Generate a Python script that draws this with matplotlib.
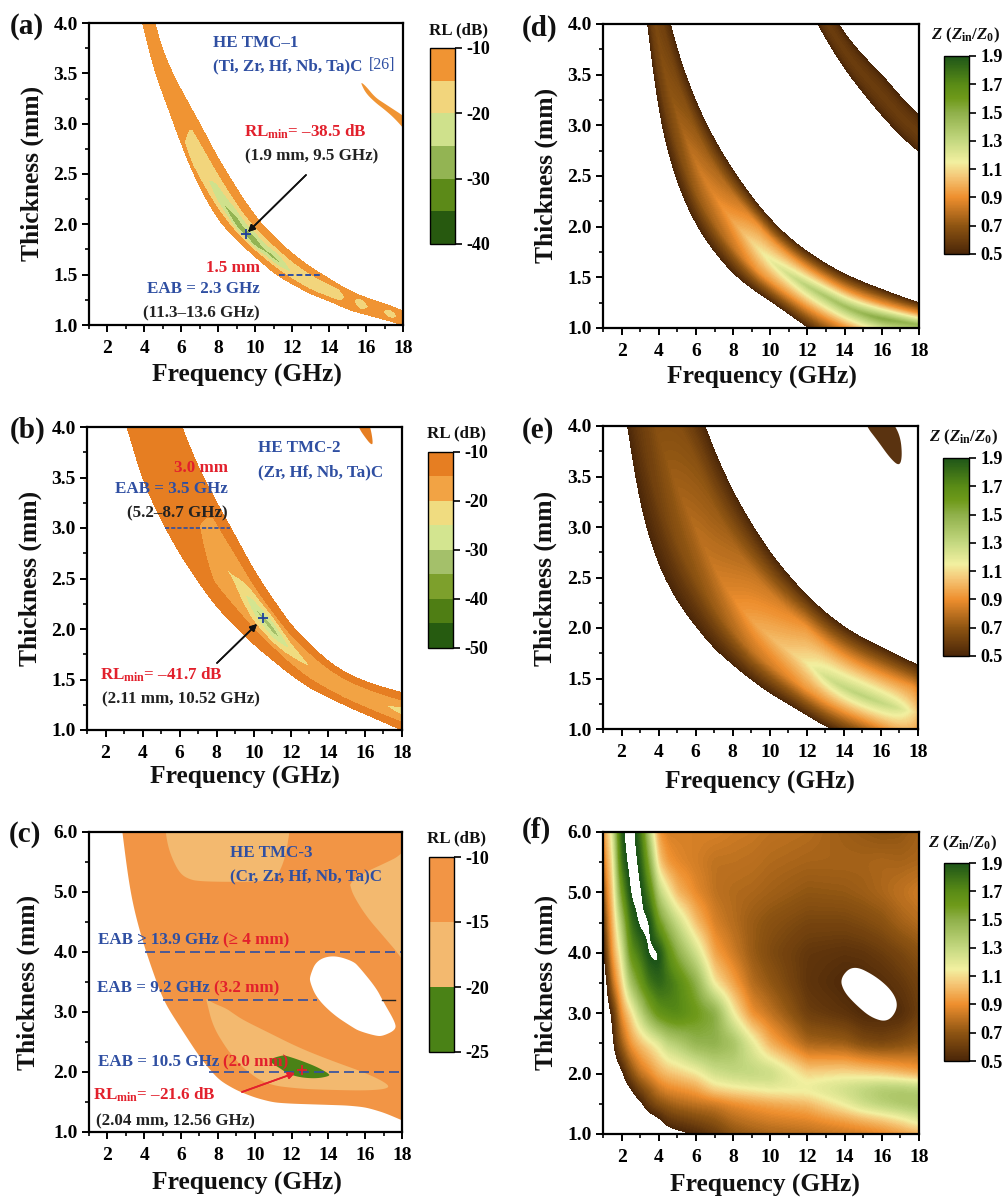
import numpy as np
import matplotlib
matplotlib.use("Agg")
import matplotlib.pyplot as plt
from matplotlib.colors import LinearSegmentedColormap, ListedColormap, BoundaryNorm, Normalize
from matplotlib.cm import ScalarMappable

plt.rcParams['font.family'] = ['Liberation Serif', 'DejaVu Serif']
plt.rcParams['font.weight'] = 'bold'
plt.rcParams['mathtext.fontset'] = 'custom'
plt.rcParams['mathtext.rm'] = 'Liberation Serif:bold'
plt.rcParams['mathtext.it'] = 'Liberation Serif:italic:bold'
plt.rcParams['mathtext.bf'] = 'Liberation Serif:bold'

W, H = 1005, 1198
BLUE = '#2f4fa2'
RED = '#e2202c'
INK = '#222222'

# panel a: RL band
a_freq = [3.9, 4.5, 5, 5.5, 6, 6.5, 7, 7.5, 8, 8.5, 9, 9.5, 10, 10.5, 11, 11.5, 12, 12.5, 13, 14, 14.5, 15.1, 15.7, 16.5, 17.3, 18]
a_low = [4.0, 3.55, 3.3, 3.05, 2.8, 2.57, 2.37, 2.2, 2.05, 1.94, 1.85, 1.76, 1.68, 1.6, 1.52, 1.46, 1.41, 1.36, 1.31, 1.24, 1.2, 1.15, 1.12, 1.08, 1.04, 1.0]
a_up = [4.7, 4.0, 3.72, 3.5, 3.33, 3.16, 3.0, 2.82, 2.65, 2.5, 2.35, 2.21, 2.08, 1.97, 1.88, 1.79, 1.71, 1.64, 1.57, 1.46, 1.4, 1.34, 1.29, 1.24, 1.19, 1.14]
a_ridge = [4.3, 3.7, 3.45, 3.15, 2.85, 2.7, 2.57, 2.42, 2.28, 2.14, 2.0, 1.9, 1.81, 1.74, 1.67, 1.6, 1.52, 1.46, 1.4, 1.33, 1.3, 1.26, 1.21, 1.16, 1.11, 1.07]
a_rl = [-11, -11, -11, -12, -13.5, -18, -19.5, -20, -25, -26, -31, -28, -32, -26, -28, -25, -19.5, -19.5, -19.5, -19.5, -19, -12, -19.8, -11, -19, -12]
a_tip_freq = [15.75, 16, 16.5, 17, 17.5, 18, 18.5]
a_tip_low = [3.39, 3.3, 3.21, 3.14, 3.06, 2.96, 2.85]
a_tip_up = [3.41, 3.37, 3.26, 3.2, 3.14, 3.08, 3.0]
a_levels = [-40, -35, -30, -25, -20, -15, -10]
a_colors = ['#27590f', '#5c8a18', '#93b453', '#cfe18c', '#f2d57c', '#f09433']

# panel b: RL band
b_freq = [3, 4, 5, 6, 7, 8, 9, 9.5, 10, 10.5, 11, 11.5, 12, 13, 14, 15, 16, 17, 18]
b_low = [4.1, 3.48, 3.08, 2.75, 2.47, 2.22, 2.03, 1.94, 1.85, 1.77, 1.7, 1.62, 1.55, 1.42, 1.33, 1.24, 1.16, 1.08, 1.0]
b_up = [6, 5.1, 4.6, 4.05, 3.6, 3.25, 2.92, 2.75, 2.58, 2.44, 2.3, 2.17, 2.04, 1.85, 1.68, 1.56, 1.48, 1.42, 1.37]
b_rl = [-11, -11, -12, -13, -14.7, -19, -21, -24.5, -30, -32, -34, -29.5, -24.5, -20.2, -19, -18.6, -18.6, -19.5, -23]
b_tip_freq = [15.2, 15.7, 16, 16.3, 16.45, 16.3, 15.9, 15.2]
b_tip_thick = [4.2, 3.98, 3.9, 3.83, 3.83, 4.0, 4.2, 4.3]
b_levels = [-50, -45, -40, -35, -30, -25, -20, -15, -10]
b_colors = ['#265b10', '#4f7e14', '#7da02c', '#a4c06a', '#d3e590', '#f0dc80', '#f2a344', '#e67e22']

# panel c: RL regions, read as boundaries
c_freq = [2.79, 3, 3.5, 4, 5, 6, 7, 8, 9, 10, 11, 12, 13, 14, 15, 16, 17, 18]
c_low = [6, 5.3, 4.6, 4.07, 3.2, 2.72, 2.25, 1.88, 1.7, 1.58, 1.5, 1.48, 1.47, 1.46, 1.45, 1.42, 1.33, 1.2]
c_top_freq = [5.05, 5.16, 5.3, 5.56, 5.9, 6.29, 7, 10.45, 11.17, 11.63, 11.9, 12]
c_top_low = [6.4, 6, 5.75, 5.53, 5.33, 5.23, 5.17, 5.17, 5.23, 5.53, 6, 6.4]
c_top_up = [6.4, 6.4, 6.4, 6.4, 6.4, 6.4, 6.4, 6.4, 6.4, 6.4, 6.4, 6.4]
c_right_freq = [15.18, 15.34, 16.07, 17, 18, 18.6]
c_right_low = [5.12, 4.95, 4.59, 4.26, 3.9, 3.55]
c_right_up = [5.12, 5.2, 5.34, 5.47, 5.62, 5.95]
c_mid_freq = [7.37, 7.73, 8.45, 8.82, 9.35, 10.6, 12.43, 14.25, 16.07, 17.25]
c_mid_low = [3.2, 2.76, 2.4, 2.26, 2.07, 1.79, 1.72, 1.7, 1.69, 1.72]
c_mid_up = [3.22, 3.15, 3.06, 2.98, 2.87, 2.68, 2.4, 2.18, 1.98, 1.8]
c_hole_freq = [13.0, 13.35, 14.25, 15.34, 15.7, 16.6, 16.97, 17.65]
c_hole_low = [3.5, 3.24, 2.96, 2.74, 2.68, 2.6, 2.6, 2.7]
c_hole_up = [3.6, 3.86, 3.95, 3.85, 3.74, 3.4, 3.18, 2.82]
c_core_freq = [10.85, 11.54, 11.72, 12.43, 13.35, 14.05]
c_core_low = [2.16, 2.03, 1.98, 1.91, 1.89, 1.93]
c_core_up = [2.22, 2.28, 2.27, 2.2, 2.09, 1.97]
c_levels = [-25, -20, -15, -10]
c_colors = ['#4a8216', '#f3b96f', '#f29545']

# panel d: impedance bands
d_freq = [3.4, 4, 4.6, 5, 6, 7, 8, 9, 10, 11, 12, 13, 14, 15, 16, 17, 18]
d_low = [4.0, 3.08, 2.68, 2.42, 2.02, 1.75, 1.54, 1.39, 1.27, 1.14, 1.01, 0.9, 0.83, 0.76, 0.7, 0.65, 0.6]
d_up = [5.0, 4.5, 4.0, 3.72, 3.22, 2.85, 2.55, 2.29, 2.07, 1.89, 1.75, 1.63, 1.53, 1.45, 1.38, 1.31, 1.25]
d_ridge = [4.5, 3.75, 3.33, 3.1, 2.62, 2.3, 2.05, 1.85, 1.66, 1.53, 1.41, 1.31, 1.21, 1.14, 1.09, 1.06, 1.03]
d_peak = [0.62, 0.65, 0.69, 0.72, 0.82, 0.87, 0.95, 1.08, 1.17, 1.25, 1.33, 1.38, 1.42, 1.46, 1.52, 1.48, 1.45]
d2_freq = [12, 13, 14, 15, 16, 17, 18]
d2_low = [4.2, 3.85, 3.56, 3.32, 3.1, 2.9, 2.74]
d2_up = [4.6, 4.2, 3.9, 3.68, 3.5, 3.28, 3.1]
d2_ridge = [4.4, 4.02, 3.73, 3.5, 3.3, 3.09, 2.92]
d2_peak = [0.6, 0.6, 0.6, 0.6, 0.6, 0.6, 0.6]

# panel e: impedance bands
e_freq = [2.33, 3, 4, 5, 6, 7, 8, 9, 10, 11, 12, 13, 14, 15, 16, 17, 18]
e_low = [4.0, 3.2, 2.62, 2.27, 2.02, 1.8, 1.64, 1.49, 1.36, 1.25, 1.14, 1.03, 0.95, 0.88, 0.8, 0.7, 0.6]
e_up = [6.5, 6, 5.3, 4.7, 4.25, 3.75, 3.35, 3.03, 2.75, 2.52, 2.32, 2.15, 2.01, 1.9, 1.81, 1.72, 1.63]
e_ridge = [5, 4.5, 3.9, 3.4, 3.0, 2.6, 2.3, 2.08, 1.92, 1.78, 1.66, 1.52, 1.41, 1.33, 1.26, 1.2, 1.16]
e_peak = [0.6, 0.62, 0.68, 0.74, 0.78, 0.82, 0.88, 0.95, 1.0, 1.05, 1.12, 1.25, 1.3, 1.32, 1.3, 1.25, 1.05]
e_tip_freq = [14.9, 15.2, 15.8, 16.5, 17, 17.15, 17.05, 16.6, 16.2, 15.8]
e_tip_thick = [4.2, 4.0, 3.86, 3.68, 3.6, 3.7, 3.9, 4.05, 4.2, 4.3]

# panel f: impedance grid, one list per frequency, thickness from f_thick
f_freq = [1, 1.25, 1.5, 2, 2.5, 3, 3.5, 4, 4.5, 5, 6, 7, 8, 9, 10, 12, 14, 15, 16, 17, 18]
f_thick = [1, 1.25, 1.5, 1.75, 2, 2.5, 3, 3.5, 4, 4.5, 5, 5.5, 6]
f_cols = [
    [.2, .2, .2, .2, .2, .25, .3, .38, .43, .5, .6, .75, .88],
    [.2, .2, .2, .25, .3, .38, .44, .5, .68, .8, .92, 1.0, 1.05],
    [.2, .25, .3, .33, .38, .45, .5, .78, .92, .97, 1.0, 1.05, 1.15],
    [.3, .33, .38, .42, .45, .72, .9, 1.05, 1.18, 1.35, 1.6, 1.8, 1.88],
    [.35, .38, .42, .48, .65, .92, 1.08, 1.4, 1.65, 1.8, 1.94, 1.98, 2.0],
    [.36, .4, .45, .62, .8, 1.02, 1.3, 1.6, 1.78, 1.94, 1.95, 1.88, 1.78],
    [.38, .42, .6, .72, .88, 1.1, 1.5, 1.78, 1.93, 1.93, 1.72, 1.5, 1.3],
    [.4, .47, .68, .82, .97, 1.18, 1.65, 1.85, 1.93, 1.6, 1.32, 1.05, .92],
    [.43, .57, .72, .88, 1.02, 1.3, 1.7, 1.8, 1.68, 1.42, 1.15, .92, .85],
    [.46, .6, .76, .9, 1.05, 1.35, 1.72, 1.72, 1.5, 1.28, 1.0, .88, .85],
    [.51, .65, .8, .95, 1.12, 1.48, 1.62, 1.5, 1.25, 1.02, .88, .84, .85],
    [.58, .7, .82, 1.08, 1.25, 1.5, 1.52, 1.12, .95, .85, .8, .8, .85],
    [.68, .78, .88, 1.12, 1.3, 1.42, 1.15, .95, .83, .78, .77, .8, .83],
    [.72, .82, .92, 1.15, 1.32, 1.2, .9, .78, .72, .72, .76, .79, .82],
    [.75, .85, .95, 1.18, 1.3, .98, .8, .7, .65, .68, .74, .77, .8],
    [.78, .88, 1.0, 1.2, 1.08, .75, .6, .56, .57, .63, .7, .75, .78],
    [.82, .95, 1.17, 1.28, 1.1, .72, .55, .51, .55, .63, .71, .75, .73],
    [.84, 1.0, 1.28, 1.33, 1.08, .65, .51, .51, .56, .65, .73, .75, .71],
    [.87, 1.05, 1.35, 1.38, 1.05, .63, .51, .53, .59, .68, .76, .76, .69],
    [.92, 1.12, 1.4, 1.38, 1.0, .66, .52, .57, .63, .74, .8, .75, .7],
    [.98, 1.22, 1.42, 1.35, .95, .7, .6, .62, .68, .78, .84, .76, .74],
]
f_hole_freq = [13.75, 13.95, 14.6, 15.45, 16.35, 16.9, 16.6, 15.65, 14.45]
f_hole_thick = [3.58, 3.36, 3.14, 2.92, 2.85, 3.1, 3.36, 3.62, 3.8]

z_stops = [0.5, 0.7, 0.9, 1.05, 1.15, 1.3, 1.5, 1.6, 1.7, 1.9]
z_colors = ['#4a2608', '#8f5512', '#ee8f2e', '#f5c878', '#f2f0a0', '#c4d880', '#8fb04a', '#6f9a1a', '#5a8c16', '#1e5518']
z_ticks = [0.5, 0.7, 0.9, 1.1, 1.3, 1.5, 1.7, 1.9]
z_cmap = LinearSegmentedColormap.from_list('z', [((s - 0.5) / 1.4, c) for s, c in zip(z_stops, z_colors)])
z_norm = Normalize(0.5, 1.9)
z_levels = np.linspace(0.5, 1.9, 141)


def px_axes(fig, left, right, top, bottom):
    return fig.add_axes([left / W, 1 - bottom / H, (right - left) / W, (bottom - top) / H])


def put(fig, x, y, s, **kw):
    kw.setdefault('fontsize', 12.25)
    kw.setdefault('va', 'center')
    kw.setdefault('color', INK)
    fig.text(x / W, 1 - y / H, s, **kw)


# the read columns are coarse, this only rounds the drawn edges between them
def fine(x, y, grid, width):
    v = np.interp(grid, x, y)
    step = grid[1] - grid[0]
    n = max(1, int(width / step))
    padded = np.r_[2 * v[0] - v[n:0:-1], v, 2 * v[-1] - v[-2:-n - 2:-1]]
    win = np.hanning(2 * n + 3)
    win = win / win.sum()
    return np.convolve(padded, win, mode='same')[n:-n]


def outline(x, y, rounds=4):
    x, y = np.array(x, float), np.array(y, float)
    for i in range(rounds):
        x = np.c_[0.75 * x + 0.25 * np.roll(x, -1), 0.25 * x + 0.75 * np.roll(x, -1)].ravel()
        y = np.c_[0.75 * y + 0.25 * np.roll(y, -1), 0.25 * y + 0.75 * np.roll(y, -1)].ravel()
    return x, y


def region(ax, freq, low, up, color):
    x, y = outline(list(freq) + list(freq)[::-1], list(low) + list(up)[::-1])
    ax.fill(x, y, color=color, lw=0)


def rl_band(ax, freq, low, up, levels, colors, rl, ridge=None):
    ridge = (np.array(low) + np.array(up)) / 2 if ridge is None else ridge
    g = np.linspace(freq[0], freq[-1], 500)
    low, up, ridge = fine(freq, low, g, 0.7), fine(freq, up, g, 0.7), fine(freq, ridge, g, 0.7)
    rl = fine(freq, rl, g, 0.3)
    X = np.tile(g, (5, 1))
    Y = np.vstack([low, low + 0.4 * (ridge - low), ridge, ridge + 0.6 * (up - ridge), up])
    shoulder = np.maximum(-10 + 0.6 * (rl + 10), -15)
    C = np.vstack([np.full_like(rl, -10.0), shoulder, rl, shoulder, np.full_like(rl, -10.0)])
    ax.contourf(X, Y, C, levels=levels, colors=colors)


def z_band(ax, freq, low, up, ridge, peak):
    g = np.linspace(freq[0], freq[-1], 400)
    low, up = fine(freq, low, g, 0.9), fine(freq, up, g, 0.9)
    ridge, peak = fine(freq, ridge, g, 0.9), fine(freq, peak, g, 0.9)
    X = np.tile(g, (5, 1))
    Y = np.vstack([low, (low + ridge) / 2, ridge, (ridge + up) / 2, up])
    shoulder = np.minimum(0.5 + 0.68 * (peak - 0.5), 0.92)
    C = np.vstack([np.full_like(peak, 0.5), shoulder, peak, shoulder, np.full_like(peak, 0.5)])
    ax.contourf(X, Y, C, levels=z_levels, cmap=z_cmap, norm=z_norm)


def z_grid(ax, freq, thick, cols):
    gx = np.linspace(1, 18, 420)
    gy = np.linspace(1, 6, 420)
    cols = np.array(cols)
    A = np.array([fine(thick, c, gy, 0.22) for c in cols])
    B = np.array([fine(freq, A[:, j], gx, 0.3) for j in range(A.shape[1])])
    ax.contourf(gx, gy, B, levels=z_levels, cmap=z_cmap, norm=z_norm)


def style(ax, ymax):
    ax.set_xlim(1, 18)
    ax.set_ylim(1, ymax)
    ax.set_xticks(np.arange(2, 19, 2))
    ax.set_xticks(np.arange(1, 19, 2), minor=True)
    if ymax == 4:
        ax.set_yticks(np.arange(1, 4.01, 0.5))
        ax.set_yticks(np.arange(1, 4.01, 0.25), minor=True)
    else:
        ax.set_yticks(np.arange(1, 6.01, 1))
        ax.set_yticks(np.arange(1, 6.01, 0.5), minor=True)
    ax.yaxis.set_major_formatter('{x:.1f}')
    ax.tick_params(which='major', length=5, width=1.4, labelsize=14, pad=3)
    ax.tick_params(axis='x', which='major', pad=6)
    ax.tick_params(which='minor', length=3, width=1.2)
    for s in ax.spines.values():
        s.set_linewidth(1.6)


def rl_bar(fig, box, levels, colors, ticks, head):
    cax = px_axes(fig, *box)
    sm = ScalarMappable(norm=BoundaryNorm(levels, len(colors)), cmap=ListedColormap(colors))
    cb = fig.colorbar(sm, cax=cax, ticks=ticks, spacing='proportional')
    cb.ax.set_yticklabels([str(t) for t in ticks])
    cb.ax.tick_params(length=5, width=1.2, labelsize=13, pad=3)
    cb.ax.minorticks_off()
    cb.outline.set_linewidth(1.0)
    put(fig, head[0], head[1], 'RL (dB)', ha='center', fontsize=12.2, color='#111111')


def z_bar(fig, box, head):
    cax = px_axes(fig, *box)
    sm = ScalarMappable(norm=z_norm, cmap=z_cmap)
    cb = fig.colorbar(sm, cax=cax, ticks=z_ticks)
    cb.ax.set_yticklabels(['%.1f' % t for t in z_ticks])
    cb.ax.tick_params(length=5, width=1.2, labelsize=13, pad=3)
    cb.ax.minorticks_off()
    cb.outline.set_linewidth(1.0)
    put(fig, head[0], head[1], r'$\mathit{Z}$ ($\mathit{Z}_{\mathrm{in}}/\mathit{Z}_{\mathrm{0}}$)', ha='center', fontsize=12.2, color='#111111')


def labels(fig, xl, yl, tag):
    put(fig, xl[0], xl[1], 'Frequency (GHz)', ha='center', fontsize=18.4, color='#111111')
    put(fig, yl[0], yl[1], 'Thickness (mm)', ha='center', rotation=90, fontsize=18.4, color='#111111')
    put(fig, tag[0], tag[1], tag[2], fontsize=21, color='#111111')


def arrow(fig, start, end, color):
    fig.add_artist(plt.annotate('', xy=(end[0] / W, 1 - end[1] / H), xytext=(start[0] / W, 1 - start[1] / H),
                                xycoords='figure fraction', textcoords='figure fraction',
                                arrowprops=dict(arrowstyle='-|>', color=color, lw=1.2, mutation_scale=10, shrinkA=0, shrinkB=0)))


fig = plt.figure(figsize=(W / 100, H / 100), dpi=100)

# (a)
ax = px_axes(fig, 89, 403, 23, 325)
rl_band(ax, a_freq, a_low, a_up, a_levels, a_colors, a_rl, a_ridge)
region(ax, a_tip_freq, a_tip_low, a_tip_up, a_colors[-1])
ax.plot([11.3, 13.6], [1.5, 1.5], '--', color=BLUE, lw=1.4, dashes=(3, 1.5))
ax.plot([9.5], [1.9], '+', color='#1f3f9a', ms=7, mew=1.3)
style(ax, 4)
labels(fig, (247, 375), (32, 173), (10, 27, '(a)'))
rl_bar(fig, (430, 455, 48, 244), a_levels, a_colors, [-40, -30, -20, -10], (458, 30))
put(fig, 213, 43, 'HE TMC\u20131', color=BLUE)
put(fig, 213, 66, '(Ti, Zr, Hf, Nb, Ta)C', color=BLUE)
put(fig, 369, 65, '[26]', color=BLUE, fontweight='normal', fontsize=11.5)
put(fig, 244, 132, 'RL$_{\\mathrm{min}}$= \u201338.5 dB', color=RED)
put(fig, 245, 156, '(1.9 mm, 9.5 GHz)')
put(fig, 260, 268, '1.5 mm', color=RED, ha='right')
put(fig, 260, 289, 'EAB = 2.3 GHz', color=BLUE, ha='right')
put(fig, 260, 313, '(11.3\u201313.6 GHz)', ha='right')
arrow(fig, (306, 175), (248, 232), '#111111')

# (b)
ax = px_axes(fig, 87, 402, 427, 730)
rl_band(ax, b_freq, b_low, b_up, b_levels, b_colors, b_rl)
x, y = outline(b_tip_freq, b_tip_thick)
ax.fill(x, y, color=b_colors[-1], lw=0)
ax.plot([5.2, 8.7], [3, 3], '--', color=BLUE, lw=1.2, dashes=(2.5, 1.2))
ax.plot([10.52], [2.11], '+', color='#1f3f9a', ms=7, mew=1.3)
style(ax, 4)
labels(fig, (245, 777), (30, 578), (10, 430, '(b)'))
rl_bar(fig, (428, 453, 452, 648), b_levels, b_colors, [-50, -40, -30, -20, -10], (456, 433))
put(fig, 258, 448, 'HE TMC-2', color=BLUE)
put(fig, 258, 472, '(Zr, Hf, Nb, Ta)C', color=BLUE)
put(fig, 228, 468, '3.0 mm', color=RED, ha='right')
put(fig, 228, 489, 'EAB = 3.5 GHz', color=BLUE, ha='right')
put(fig, 228, 513, '(5.2\u20138.7 GHz)', ha='right')
put(fig, 100, 675, 'RL$_{\\mathrm{min}}$= \u201341.7 dB', color=RED)
put(fig, 102, 699, '(2.11 mm, 10.52 GHz)')
arrow(fig, (217, 663), (257, 624), '#111111')

# (c)
ax = px_axes(fig, 89, 402, 832, 1132)
g = np.linspace(c_freq[0], c_freq[-1], 500)
ax.fill_between(g, fine(c_freq, c_low, g, 0.7), 6, color=c_colors[2], lw=0)
region(ax, c_top_freq, c_top_low, c_top_up, c_colors[1])
region(ax, c_right_freq, c_right_low, c_right_up, c_colors[1])
region(ax, c_mid_freq, c_mid_low, c_mid_up, c_colors[1])
region(ax, c_hole_freq, c_hole_low, c_hole_up, 'white')
region(ax, c_core_freq, c_core_low, c_core_up, c_colors[0])
ax.plot([4.05, 18], [4, 4], '--', color=BLUE, lw=1.2, dashes=(6, 3))
ax.plot([5, 13.4], [3.2, 3.2], '--', color=BLUE, lw=1.2, dashes=(6, 3))
ax.plot([16.9, 17.6], [3.2, 3.2], '-', color='#222222', lw=1.0)
ax.plot([7.5, 18], [2, 2], '--', color=BLUE, lw=1.2, dashes=(6, 3))
ax.plot([12.56], [2.04], '+', color=RED, ms=7, mew=1.3)
style(ax, 6)
labels(fig, (247, 1183), (28, 982), (9, 835, '(c)'))
rl_bar(fig, (429, 454, 857, 1052), c_levels, c_colors, [-25, -20, -15, -10], (456, 838))
put(fig, 230, 853, 'HE TMC-3', color=BLUE)
put(fig, 230, 876, '(Cr, Zr, Hf, Nb, Ta)C', color=BLUE)
put(fig, 98, 940, 'EAB \u2265 13.9 GHz', color=BLUE)
put(fig, 223, 940, '(\u2265 4 mm)', color=RED)
put(fig, 97, 988, 'EAB = 9.2 GHz', color=BLUE)
put(fig, 214, 988, '(3.2 mm)', color=RED)
put(fig, 98, 1062, 'EAB = 10.5 GHz', color=BLUE)
put(fig, 223, 1062, '(2.0 mm)', color=RED)
put(fig, 93, 1095, 'RL$_{\\mathrm{min}}$= \u201321.6 dB', color=RED)
put(fig, 96, 1121, '(2.04 mm, 12.56 GHz)')
arrow(fig, (242, 1092), (295, 1073), RED)

# (d)
ax = px_axes(fig, 603, 919, 24, 328)
z_band(ax, d_freq, d_low, d_up, d_ridge, d_peak)
z_band(ax, d2_freq, d2_low, d2_up, d2_ridge, d2_peak)
style(ax, 4)
labels(fig, (762, 377), (546, 175), (522, 28, '(d)'))
z_bar(fig, (944, 969, 56, 254), (965, 35))

# (e)
ax = px_axes(fig, 603, 918, 426, 729)
z_band(ax, e_freq, e_low, e_up, e_ridge, e_peak)
x, y = outline(e_tip_freq, e_tip_thick)
ax.fill(x, y, color='#5a3310', lw=0)
style(ax, 4)
labels(fig, (760, 782), (545, 578), (522, 430, '(e)'))
z_bar(fig, (943, 969, 458, 656), (963, 437))

# (f)
ax = px_axes(fig, 603, 919, 832, 1134)
z_grid(ax, f_freq, f_thick, f_cols)
x, y = outline(f_hole_freq, f_hole_thick)
ax.fill(x, y, color='white', lw=0)
style(ax, 6)
labels(fig, (765, 1185), (546, 982), (522, 830, '(f)'))
z_bar(fig, (944, 969, 863, 1061), (962, 843))

fig.savefig('out.png', dpi=100)
